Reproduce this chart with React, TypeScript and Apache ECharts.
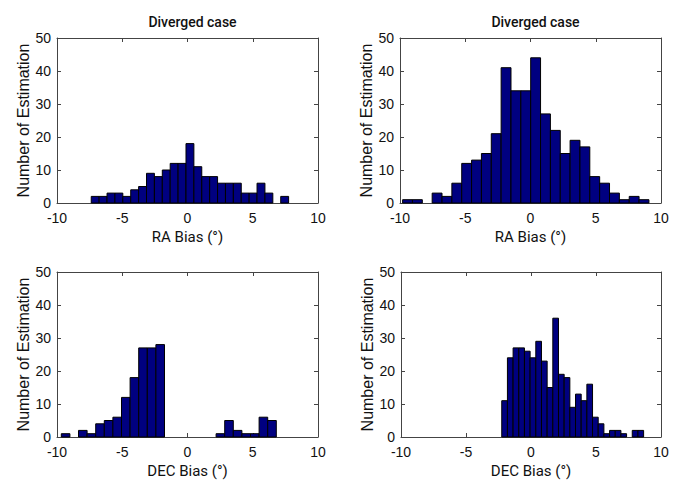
import { useEffect, useRef } from "react";
import * as echarts from "echarts";

const xMin = -10;
const xMax = 10;
const xInterval = 5;
const yMin = 0;
const yMax = 50;
const yInterval = 10;

const titleText = "Diverged case";
const yName = "Number of Estimation";
const raName = "RA Bias (°)";
const decName = "DEC Bias (°)";

// Histogram bins: first bin edge, bin width, counts
const raLeftStart = -7.376;
const raLeftWidth = 0.605;
const raLeftCounts = [2, 2, 3, 3, 2, 4, 5, 9, 8, 10, 12, 12, 18, 11, 8, 8, 6, 6, 6, 3, 3, 6, 3, 0, 2];

const raRightStart = -9.8;
const raRightWidth = 0.755;
const raRightCounts = [1, 1, 0, 3, 2, 6, 12, 13, 15, 21, 41, 34, 34, 44, 27, 22, 15, 19, 17, 8, 6, 3, 1, 2, 1];

const decLeftStart = -9.67;
const decLeftWidth = 0.659;
const decLeftCounts = [1, 0, 2, 1, 4, 5, 6, 12, 18, 27, 27, 28, 0, 0, 0, 0, 0, 0, 1, 5, 2, 1, 1, 6, 5];

const decRightStart = -2.25;
const decRightWidth = 0.4365;
const decRightCounts = [11, 24, 27, 27, 26, 24, 29, 23, 15, 36, 19, 18, 9, 13, 11, 16, 6, 4, 1, 2, 2, 1, 0, 2, 2];

const panels = [
  { start: raLeftStart, width: raLeftWidth, counts: raLeftCounts, xName: raName, title: true, grid: { left: 57, top: 38, width: 261, height: 165 } },
  { start: raRightStart, width: raRightWidth, counts: raRightCounts, xName: raName, title: true, grid: { left: 400, top: 38, width: 261, height: 165 } },
  { start: decLeftStart, width: decLeftWidth, counts: decLeftCounts, xName: decName, title: false, grid: { left: 57, top: 272, width: 261, height: 165 } },
  { start: decRightStart, width: decRightWidth, counts: decRightCounts, xName: decName, title: false, grid: { left: 401, top: 272, width: 260, height: 165 } },
];

const axisColor = "#444";
const barColor = "#000080";
const labelFont = "Liberation Sans, Arial, sans-serif";
const narrowFont = "Roboto, Liberation Sans, sans-serif";

export default function App() {
  const ref = useRef<HTMLDivElement>(null);
  useEffect(() => {
    if (!ref.current) return;
    const chart = echarts.init(ref.current, undefined, { renderer: "svg" });
    const grids: any[] = [];
    const xAxes: any[] = [];
    const yAxes: any[] = [];
    const series: any[] = [];
    const titles: any[] = [];
    panels.forEach((p, i) => {
      grids.push({ ...p.grid, containLabel: false });
      const common = {
        type: "value",
        gridIndex: i,
        min: xMin,
        max: xMax,
        interval: xInterval,
        splitLine: { show: false },
        axisLine: { show: true, onZero: false, lineStyle: { color: axisColor, width: 1 } },
        axisTick: { show: true, inside: true, length: 4, lineStyle: { color: axisColor } },
      };
      xAxes.push({
        ...common,
        position: "bottom",
        name: p.xName,
        nameLocation: "middle",
        nameGap: 26,
        nameTextStyle: { fontFamily: narrowFont, fontSize: 15, color: "#111" },
        axisLabel: { show: true, fontFamily: labelFont, fontSize: 14, color: "#111", margin: 8 },
      });
      xAxes.push({ ...common, position: "top", axisLabel: { show: false } });
      const ycommon = {
        type: "value",
        gridIndex: i,
        min: yMin,
        max: yMax,
        interval: yInterval,
        splitLine: { show: false },
        axisLine: { show: true, onZero: false, lineStyle: { color: axisColor, width: 1 } },
        axisTick: { show: true, inside: true, length: 4, lineStyle: { color: axisColor } },
      };
      yAxes.push({
        ...ycommon,
        position: "left",
        name: yName,
        nameLocation: "middle",
        nameGap: 24,
        nameTextStyle: { fontFamily: labelFont, fontSize: 16, color: "#111" },
        axisLabel: { show: true, fontFamily: labelFont, fontSize: 14, color: "#111", margin: 6 },
      });
      yAxes.push({ ...ycommon, position: "right", axisLabel: { show: false } });
      const data = p.counts
        .map((c, k) => [p.start + k * p.width, p.start + (k + 1) * p.width, c])
        .filter((d) => d[2] > 0);
      series.push({
        type: "custom",
        xAxisIndex: i * 2,
        yAxisIndex: i * 2,
        encode: { x: [0, 1], y: 2 },
        data,
        renderItem: (_params: any, api: any) => {
          const p0 = api.coord([api.value(0), api.value(2)]);
          const p1 = api.coord([api.value(1), 0]);
          return {
            type: "rect",
            shape: { x: p0[0], y: p0[1], width: p1[0] - p0[0], height: p1[1] - p0[1] },
            style: { fill: barColor, stroke: "#000", lineWidth: 1 },
          };
        },
      });
      if (p.title) {
        titles.push({
          text: titleText,
          left: p.grid.left + p.grid.width / 2,
          top: 10,
          textAlign: "center",
          textStyle: { fontFamily: narrowFont, fontSize: 14, fontWeight: 500, color: "#111" },
        });
      }
    });
    chart.setOption({
      animation: false,
      backgroundColor: "#fff",
      title: titles,
      grid: grids,
      xAxis: xAxes,
      yAxis: yAxes,
      series,
    });
    return () => chart.dispose();
  }, []);
  return <div ref={ref} style={{ position: "absolute", left: 0, top: 0, width: 673, height: 485 }} />;
}
